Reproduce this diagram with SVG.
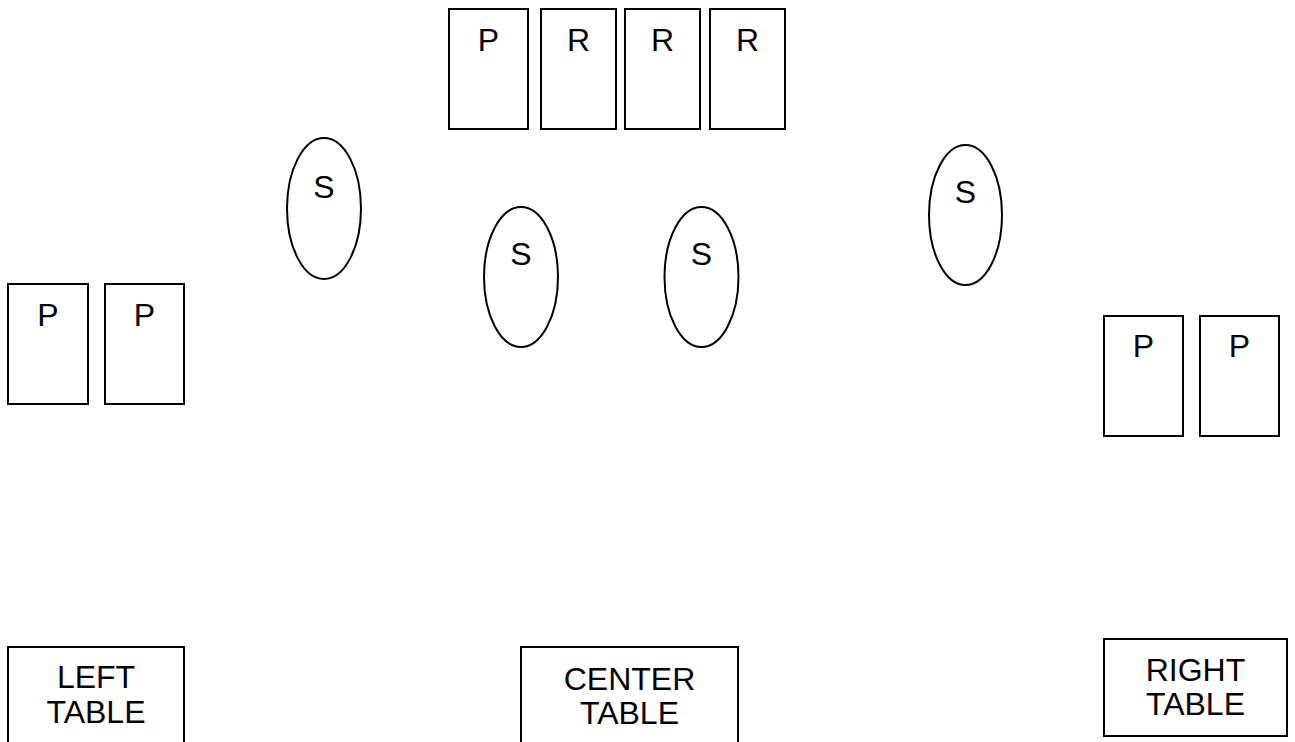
<svg xmlns="http://www.w3.org/2000/svg" width="1295" height="742" viewBox="0 0 1295 742">
<style>
.b{fill:#fff;stroke:#000;stroke-width:2}
.t{font-family:"Liberation Sans",Arial,sans-serif;font-size:32px;fill:#000;text-anchor:middle}
</style>
<rect width="1295" height="742" fill="#fff"/>
<g id="top-p"><rect class="b" x="449" y="9" width="79" height="120"/><text class="t" x="488.5" y="51">P</text></g>
<g id="top-r1"><rect class="b" x="541" y="9" width="75" height="120"/><text class="t" x="578.5" y="51">R</text></g>
<g id="top-r2"><rect class="b" x="625" y="9" width="75" height="120"/><text class="t" x="662.5" y="51">R</text></g>
<g id="top-r3"><rect class="b" x="710" y="9" width="75" height="120"/><text class="t" x="747.5" y="51">R</text></g>
<g id="left-p1"><rect class="b" x="8" y="284" width="80" height="120"/><text class="t" x="48" y="326">P</text></g>
<g id="left-p2"><rect class="b" x="105" y="284" width="79" height="120"/><text class="t" x="144.5" y="326">P</text></g>
<g id="right-p1"><rect class="b" x="1104" y="316" width="79" height="120"/><text class="t" x="1143.5" y="357">P</text></g>
<g id="right-p2"><rect class="b" x="1200" y="316" width="79" height="120"/><text class="t" x="1239.5" y="357">P</text></g>
<g id="s1"><ellipse class="b" cx="324" cy="208.5" rx="37" ry="70.5"/><text class="t" x="324" y="198">S</text></g>
<g id="s2"><ellipse class="b" cx="521" cy="277" rx="37" ry="70"/><text class="t" x="521" y="265">S</text></g>
<g id="s3"><ellipse class="b" cx="701.5" cy="277" rx="37" ry="70"/><text class="t" x="701.5" y="265">S</text></g>
<g id="s4"><ellipse class="b" cx="965.5" cy="215" rx="36.5" ry="70"/><text class="t" x="965.5" y="203">S</text></g>
<g id="left-table"><rect class="b" x="8" y="647" width="176" height="110"/><text class="t" x="96" y="688">LEFT</text><text class="t" x="96" y="723">TABLE</text></g>
<g id="center-table"><rect class="b" x="521" y="647" width="217" height="110"/><text class="t" x="629.5" y="690">CENTER</text><text class="t" x="629.5" y="724">TABLE</text></g>
<g id="right-table"><rect class="b" x="1104" y="639" width="183" height="97"/><text class="t" x="1195.5" y="681">RIGHT</text><text class="t" x="1195.5" y="715">TABLE</text></g>
<g id="connectors"/>
</svg>
